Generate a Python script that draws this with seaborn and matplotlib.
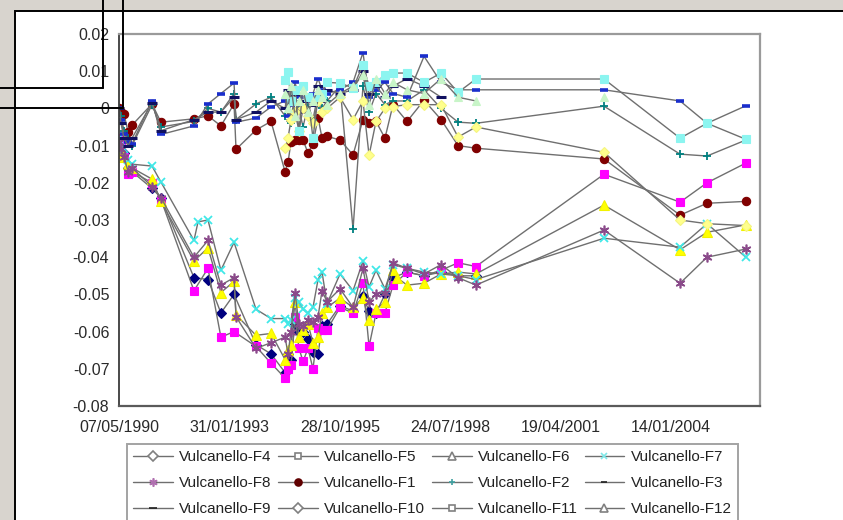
import numpy as np
import pandas as pd
import matplotlib
matplotlib.use("Agg")
import matplotlib.pyplot as plt
from matplotlib.lines import Line2D
from matplotlib.patches import Rectangle
import seaborn as sns

# ---------------- data ----------------
dates = ["1990-05-07", "1990-05-25", "1990-06-21", "1990-07-28", "1990-09-02",
         "1991-03-02", "1991-05-22", "1992-03-16", "1992-04-22", "1992-07-21",
         "1992-11-15", "1993-03-14", "1993-04-01", "1993-09-29", "1994-02-12",
         "1994-06-19", "1994-07-16", "1994-08-12", "1994-09-17", "1994-10-23",
         "1994-11-29", "1995-01-13", "1995-02-27", "1995-04-14", "1995-05-20",
         "1995-07-04", "1995-10-30", "1996-02-25", "1996-05-25", "1996-07-19",
         "1996-09-20", "1996-12-10", "1997-02-21", "1997-03-29", "1997-06-28",
         "1997-11-29", "1998-05-02", "1998-10-03", "1999-03-14", "2002-05-17",
         "2004-04-05", "2004-12-05", "2005-11-22"]

N = None
F4 = [-0.009, -0.010, -0.012, -0.016, -0.017, -0.0215, -0.024, -0.0455, N, -0.046,
      -0.055, -0.050, N, -0.0635, -0.066, -0.071, -0.066, -0.0675, -0.058, -0.060,
      -0.060, -0.062, -0.0655, -0.066, -0.0585, -0.058, -0.053, -0.0545, -0.0505, -0.0545,
      -0.055, -0.050, -0.0455, N, -0.044, -0.045, -0.044, -0.045, -0.045, N,
      N, N, N]
F5 = [-0.008, -0.0095, -0.013, -0.0175, -0.017, -0.020, -0.0245, -0.049, N, -0.043,
      -0.0615, -0.060, N, -0.064, -0.0685, -0.0725, -0.070, -0.069, -0.056, -0.0645,
      -0.068, -0.0645, -0.070, -0.059, -0.0595, -0.0595, -0.0535, -0.055, -0.047, -0.064,
      -0.055, -0.055, -0.0475, N, -0.044, -0.045, -0.0435, -0.0415, -0.0425, -0.0177,
      -0.0252, -0.020, -0.0147]
F6 = [-0.0105, -0.012, -0.013, -0.015, -0.016, -0.019, -0.025, -0.041, N, -0.0375,
      -0.0495, -0.0465, -0.0555, -0.061, -0.0605, -0.0675, -0.065, -0.0635, -0.052, -0.0615,
      -0.0595, -0.058, -0.063, -0.0615, -0.055, -0.0535, -0.051, -0.0535, -0.051, -0.057,
      -0.054, -0.052, -0.0435, -0.0455, -0.0475, -0.047, -0.0445, -0.044, -0.0445, -0.026,
      -0.038, -0.0333, -0.0313]
F7 = [-0.008, -0.009, -0.011, -0.014, -0.015, -0.0155, -0.0198, -0.0355, -0.0305, -0.030,
      -0.0435, -0.036, N, -0.054, -0.0565, -0.0565, -0.058, -0.057, -0.051, -0.052,
      -0.054, -0.055, -0.0535, -0.046, -0.044, -0.0525, -0.0445, -0.049, -0.041, -0.048,
      -0.0435, -0.0485, -0.042, N, -0.043, -0.044, -0.0445, -0.045, -0.046, -0.0349,
      -0.0373, -0.031, -0.040]
F8 = [-0.009, -0.011, -0.013, -0.017, -0.016, -0.021, -0.024, -0.040, N, -0.0355,
      -0.0475, -0.0455, -0.056, -0.0645, -0.063, -0.0615, -0.066, -0.060, -0.0495, -0.058,
      -0.0585, -0.057, -0.0575, -0.056, -0.049, -0.052, -0.0485, -0.0535, -0.043, -0.052,
      -0.050, -0.0495, -0.0415, N, -0.043, -0.0445, -0.042, -0.0455, -0.0475, -0.0327,
      -0.047, -0.040, -0.0378]
F1 = [0.0, -0.001, -0.0015, -0.0063, -0.0045, 0.0012, -0.0037, -0.0028, N, -0.002,
      -0.0047, 0.0012, -0.011, -0.0058, -0.0035, -0.017, -0.0145, -0.009, -0.0085, -0.0085,
      -0.0085, -0.012, -0.0095, -0.0025, -0.008, -0.0075, -0.0085, -0.0125, -0.003, -0.004,
      -0.0035, -0.008, 0.001, N, -0.0035, 0.0022, -0.003, -0.010, -0.0107, -0.0136,
      -0.0287, -0.0255, -0.025]
F2 = [0.0, -0.002, -0.006, -0.008, -0.010, 0.001, -0.005, -0.0035, N, 0.0,
      -0.001, 0.004, -0.003, 0.0012, 0.003, -0.002, 0.003, -0.004, 0.002, 0.0,
      -0.005, 0.001, -0.003, 0.004, 0.0, 0.002, 0.006, -0.0325, 0.006, -0.001,
      0.004, 0.001, 0.002, N, 0.002, 0.005, 0.0, -0.0037, -0.004, 0.0006,
      -0.0123, -0.0128, -0.0085]
F3 = [0.0, -0.003, -0.007, -0.009, -0.0095, 0.002, -0.007, -0.0047, N, 0.0012,
      0.004, 0.0068, -0.0037, -0.0026, 0.0004, 0.002, -0.002, 0.001, 0.007, 0.003,
      0.0, 0.002, 0.004, 0.008, 0.005, 0.004, 0.005, 0.007, 0.015, 0.003,
      0.005, 0.007, 0.004, N, 0.003, 0.014, 0.007, 0.005, 0.005, 0.005,
      0.002, -0.004, 0.0007]
F9 = [0.0, -0.004, -0.008, -0.010, -0.008, 0.0015, -0.006, -0.003, N, -0.001,
      -0.001, 0.003, -0.003, -0.001, 0.002, 0.0, 0.005, -0.003, 0.004, -0.001,
      0.002, 0.003, 0.001, 0.006, 0.002, 0.005, 0.004, 0.005, 0.010, 0.004,
      0.006, 0.003, 0.006, N, 0.008, 0.006, 0.003, N, N, N,
      N, N, N]
F10 = [N, N, N, N, N, N, N, N, N, N,
       N, N, N, N, N, -0.0107, -0.008, -0.003, -0.001, -0.006,
       0.0, -0.002, -0.004, 0.002, -0.001, 0.0, 0.003, -0.003, 0.002, -0.0126,
       -0.0035, 0.0, 0.0005, N, 0.001, 0.001, 0.001, -0.0077, -0.005, -0.0118,
       -0.030, -0.031, -0.0315]
F11 = [N, N, N, N, N, N, N, N, N, N,
       N, N, N, N, N, 0.0076, 0.0098, 0.002, 0.005, -0.006,
       0.006, 0.003, -0.008, 0.003, 0.004, 0.007, 0.0068, 0.0055, 0.0117, 0.006,
       0.007, 0.009, 0.0095, N, 0.0095, 0.007, 0.0095, 0.0043, 0.0079, 0.0079,
       -0.008, -0.004, -0.0083]
F12 = [N, N, N, N, N, N, N, N, N, N,
       N, N, N, N, N, 0.004, 0.0, 0.006, -0.002, 0.002,
       0.005, -0.001, 0.002, 0.005, 0.003, 0.001, 0.004, 0.006, 0.009, 0.001,
       0.008, 0.004, 0.007, N, 0.005, 0.004, 0.008, 0.003, 0.002, 0.003,
       N, N, N]

series_names = ["Vulcanello-F4", "Vulcanello-F5", "Vulcanello-F6", "Vulcanello-F7",
                "Vulcanello-F8", "Vulcanello-F1", "Vulcanello-F2", "Vulcanello-F3",
                "Vulcanello-F9", "Vulcanello-F10", "Vulcanello-F11", "Vulcanello-F12"]
series_values = [F4, F5, F6, F7, F8, F1, F2, F3, F9, F10, F11, F12]
# F12's last survey is not joined to the earlier ones
line_break_after = {"Vulcanello-F12": "1999-03-14"}

x_tick_labels = ["07/05/1990", "31/01/1993", "28/10/1995", "24/07/1998", "19/04/2001", "14/01/2004"]
x_min, x_max = "1990-05-07", "2006-03-30"
y_ticks = [-0.08, -0.07, -0.06, -0.05, -0.04, -0.03, -0.02, -0.01, 0.0, 0.01, 0.02]
y_tick_labels = ["-0.08", "-0.07", "-0.06", "-0.05", "-0.04", "-0.03", "-0.02", "-0.01", "0", "0.01", "0.02"]

# ---------------- styles ----------------
styles = {
    "Vulcanello-F4": dict(marker="D", ms=5.0, fc="#000080", ec="#000080", mew=0.8),
    "Vulcanello-F5": dict(marker="s", ms=6.0, fc="#FF00FF", ec="#FF00FF", mew=0.8),
    "Vulcanello-F6": dict(marker="^", ms=6.5, fc="#FFFF00", ec="#F2F200", mew=0.8),
    "Vulcanello-F7": dict(marker="x", ms=6.0, fc="#40E8E8", ec="#40E8E8", mew=1.3),
    "Vulcanello-F8": dict(marker=(6, 2, 0), ms=7.0, fc="#8A4A8A", ec="#8A4A8A", mew=1.2),
    "Vulcanello-F1": dict(marker="o", ms=6.0, fc="#800000", ec="#800000", mew=0.8),
    "Vulcanello-F2": dict(marker="+", ms=6.0, fc="#008080", ec="#008080", mew=1.3),
    "Vulcanello-F3": dict(marker="_", ms=5.5, fc="#1A2ECC", ec="#1A2ECC", mew=2.6),
    "Vulcanello-F9": dict(marker="_", ms=7.0, fc="#101060", ec="#101060", mew=2.2),
    "Vulcanello-F10": dict(marker="D", ms=5.5, fc="#FFFF8C", ec="#F5F580", mew=0.8),
    "Vulcanello-F11": dict(marker="s", ms=6.0, fc="#8CF5F0", ec="#8CF5F0", mew=0.8),
    "Vulcanello-F12": dict(marker="^", ms=6.0, fc="#C8F5C8", ec="#C8F5C8", mew=0.8),
}
line_color = "#6F6F6F"

sns.set_style("white")
plt.rcParams["font.family"] = ["Liberation Sans", "DejaVu Sans"]

W, H = 843, 520
fig = plt.figure(figsize=(W / 100, H / 100), dpi=100, facecolor="#D8D4CE")

# white slide panel with black frame
fig.patches.append(Rectangle((15 / W, -0.05), 1.2, 1 - 11 / H + 0.05, transform=fig.transFigure,
                             facecolor="white", edgecolor="black", lw=1.4, zorder=-5))

ax = fig.add_axes([119 / W, 114 / H, 641 / W, 372 / H])
ax.set_facecolor("white")

for name, vals in zip(series_names, series_values):
    df = pd.DataFrame({"date": pd.to_datetime(dates), "value": vals}).dropna()
    st = styles[name]
    segments = [df]
    if name in line_break_after:
        cut = pd.Timestamp(line_break_after[name])
        segments = [df[df["date"] <= cut], df[df["date"] > cut]]
    for seg in segments:
        sns.lineplot(data=seg, x="date", y="value", ax=ax, color=line_color, lw=1.0,
                     marker=st["marker"], markersize=st["ms"], markerfacecolor=st["fc"],
                     markeredgecolor=st["ec"], markeredgewidth=st["mew"],
                     estimator=None, sort=False, legend=False)

ax.set_xlim(pd.Timestamp(x_min), pd.Timestamp(x_max))
ax.set_ylim(-0.08, 0.02)
ax.set_xticks(pd.to_datetime(x_tick_labels, format="%d/%m/%Y"))
ax.set_xticklabels(x_tick_labels)
ax.set_yticks(y_ticks)
ax.set_yticklabels(y_tick_labels)
ax.set_xlabel("")
ax.set_ylabel("")
ax.tick_params(axis="both", direction="inout", length=6, width=1.0, color="#333333",
               labelcolor="#2A2A2A", labelsize=11.5)
ax.tick_params(axis="x", pad=7)
ax.tick_params(axis="y", pad=4)
for side in ["top", "right"]:
    ax.spines[side].set_color("#9A9A9A")
    ax.spines[side].set_linewidth(1.6)
ax.spines["left"].set_color("#3A3A3A")
ax.spines["left"].set_linewidth(1.3)
ax.spines["bottom"].set_color("#5A5A5A")
ax.spines["bottom"].set_linewidth(1.6)
ax.grid(False)

# legend (appearance as in the picture)
legend_look = {
    "Vulcanello-F4": ("D", 5, "white", "#808080"),
    "Vulcanello-F5": ("s", 5, "white", "#808080"),
    "Vulcanello-F6": ("^", 5.5, "white", "#808080"),
    "Vulcanello-F7": ("x", 5, "#7FE8E8", "#7FE8E8"),
    "Vulcanello-F8": ((6, 2, 0), 6, "#B070B0", "#B070B0"),
    "Vulcanello-F1": ("o", 5, "#600000", "#600000"),
    "Vulcanello-F2": ("+", 5, "#40A0A0", "#40A0A0"),
    "Vulcanello-F3": ("_", 4, "#202020", "#202020"),
    "Vulcanello-F9": ("_", 6, "#202020", "#202020"),
    "Vulcanello-F10": ("D", 5, "white", "#808080"),
    "Vulcanello-F11": ("s", 5, "white", "#808080"),
    "Vulcanello-F12": ("^", 5.5, "white", "#808080"),
}
handles = []
for name in series_names:
    m, ms, fc, ec = legend_look[name]
    handles.append(Line2D([], [], color=line_color, lw=1.0, marker=m, markersize=ms,
                          markerfacecolor=fc, markeredgecolor=ec, markeredgewidth=1.2))
ncol, nrow = 4, 3
order = [r * ncol + c for c in range(ncol) for r in range(nrow)]
leg = fig.legend([handles[i] for i in order], [series_names[i] for i in order],
                 ncol=ncol, loc="upper left", bbox_to_anchor=(127 / W, 1 - 444 / H),
                 bbox_transform=fig.transFigure, frameon=True, fancybox=False,
                 edgecolor="#8C8C8C", fontsize=11, handlelength=2.6, handletextpad=0.4,
                 columnspacing=0.45, labelspacing=0.78, borderpad=0.4, borderaxespad=0)
leg.get_frame().set_linewidth(1.4)
for t in leg.get_texts():
    t.set_color("#222222")

# black slide decoration lines at the top left
for xs, ys in [([103 / W, 103 / W], [1, 1 - 88 / H]), ([0, 103 / W], [1 - 88 / H, 1 - 88 / H]),
               ([123 / W, 123 / W], [1, 1 - 108 / H]), ([0, 123 / W], [1 - 108 / H, 1 - 108 / H])]:
    fig.lines.append(Line2D(xs, ys, transform=fig.transFigure, color="black", lw=1.4, zorder=10))

fig.savefig("out.png", dpi=100, facecolor=fig.get_facecolor())
